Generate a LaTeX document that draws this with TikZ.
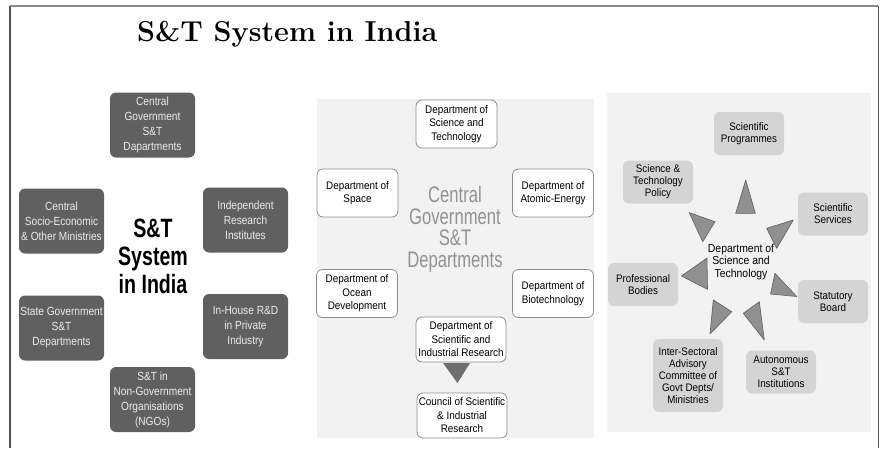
\documentclass[tikz,border=0pt]{standalone}
\usepackage{fontspec}
\newfontfamily\boxsans[FakeStretch=0.86]{Liberation Sans}
\newfontfamily\panelsans[FakeStretch=0.9]{Liberation Sans}
\newfontfamily\widesans[FakeStretch=0.74]{Liberation Sans}

\definecolor{darkfill}{HTML}{606060}
\definecolor{darktext}{HTML}{ECECEC}
\definecolor{panelbg}{HTML}{F2F2F2}
\definecolor{edgegray}{HTML}{8C8C8C}
\definecolor{lightfill}{HTML}{D4D4D4}
\definecolor{trifill}{HTML}{909090}
\definecolor{triedge}{HTML}{5E5E5E}
\definecolor{downfill}{HTML}{6E6E6E}
\definecolor{bigtext}{HTML}{929292}
\definecolor{framegray}{HTML}{8A8A8A}
\definecolor{frameside}{HTML}{555555}

\tikzset{
  darkbox/.style={rectangle, rounded corners=6pt, fill=darkfill, text=darktext,
    minimum width=85pt, minimum height=65pt, inner sep=0pt, align=center,
    font=\boxsans\fontsize{11.8}{15}\selectfont},
  whitebox/.style={rectangle, rounded corners=6pt, fill=white, draw=edgegray, line width=0.8pt,
    minimum width=81pt, minimum height=48pt, inner sep=0pt, align=center,
    font=\panelsans\fontsize{11}{13.5}\selectfont},
  widebox/.style={whitebox, minimum width=90pt, minimum height=45pt},
  greybox/.style={rectangle, rounded corners=6pt, fill=lightfill,
    minimum width=70pt, minimum height=43pt, inner sep=0pt, align=center,
    font=\panelsans\fontsize{10.9}{12}\selectfont},
  pointer/.style={fill=trifill, draw=triedge, line width=0.6pt, line join=round},
}

\begin{document}
\begin{tikzpicture}[x=1pt, y=-1pt]
\useasboundingbox (0,0) rectangle (885,448);

% outer frame
\draw[framegray, line width=2pt] (10,6) -- (878,6);
\draw[frameside, line width=1.1pt] (10,6) -- (10,448);
\draw[frameside, line width=1.1pt] (878.5,6) -- (878.5,448);

% heading
\node[anchor=base west, inner sep=0pt, font=\bfseries\fontsize{28.8}{31}\selectfont]
  (title) at (137,41.5) {S\&T System in India};

% ---------- left panel: the overall system ----------
\node[darkbox] (cgov)  at (152.5,125)   {Central\\Government\\S\&T\\Dapartments};
\node[darkbox] (csoc)  at (61.5,221)    {Central\\Socio-Economic\\\& Other Ministries};
\node[darkbox] (indep) at (245.5,220)   {Independent\\Research\\Institutes};
\node[darkbox] (state) at (61.5,328)    {State Government\\S\&T\\Departments};
\node[darkbox] (inhouse) at (245.5,326.5) {In-House R\&D\\in Private\\Industry};
\node[darkbox] (ngo)   at (152.5,399.5) {S\&T in\\Non-Government\\Organisations\\(NGOs)};
\node[align=center, inner sep=0pt, font=\widesans\bfseries\fontsize{26.5}{28.3}\selectfont]
  (system) at (153,256.5) {S\&T\\System\\in India};

% ---------- middle panel: central government departments ----------
\fill[panelbg] (317,99) rectangle (594,438);
\node[align=center, inner sep=0pt, text=bigtext, font=\widesans\fontsize{22.5}{21.5}\selectfont]
  (central) at (455,229) {Central\\Government\\S\&T\\Departments};
\node[whitebox] (dst)   at (456.5,124)  {Department of\\Science and\\Technology};
\node[whitebox] (space) at (357.5,193)  {Department of\\Space};
\node[whitebox] (atom)  at (553,193)    {Department of\\Atomic-Energy};
\node[whitebox] (ocean) at (357,293.5)  {Department of\\Ocean\\Development};
\node[whitebox] (biot)  at (553,293.5)  {Department of\\Biotechnology};
\node[widebox]  (dsir)  at (461,339.5)  {Department of\\Scientific and\\Industrial Research};
\node[widebox]  (csir)  at (462,415.5)  {Council of Scientific\\\& Industrial\\Research};
\fill[downfill] (443,363) -- (470,363) -- (457.5,383) -- cycle;

% ---------- right panel: the Department of Science and Technology ----------
\fill[panelbg] (607,93) rectangle (871,432);
\node[align=center, inner sep=0pt, font=\panelsans\fontsize{11.6}{12.5}\selectfont]
  (dstc) at (741,261.5) {Department of\\Science and\\Technology};
\node[greybox] (prog)  at (749,133.5) {Scientific\\Programmes};
\node[greybox] (policy) at (658,182)  {Science \&\\Technology\\Policy};
\node[greybox] (serv)  at (833,214)   {Scientific\\Services};
\node[greybox] (prof)  at (643,284.5) {Professional\\Bodies};
\node[greybox] (stat)  at (833,301.5) {Statutory\\Board};
\node[greybox, minimum height=73pt] (inter) at (688,375.5)
  {Inter-Sectoral\\Advisory\\Committee of\\Govt Depts/\\Ministries};
\node[greybox] (auton) at (781,372)   {Autonomous\\S\&T\\Institutions};

% pointers radiating from the centre
\draw[pointer] (745.7,180) -- (735.7,213.3) -- (755.3,213.3) -- cycle;
\draw[pointer] (689.3,212.7) -- (715,221.7) -- (702.7,241.7) -- cycle;
\draw[pointer] (793.3,220) -- (766.7,228.3) -- (776.7,248.3) -- cycle;
\draw[pointer] (681.5,276) -- (707,258) -- (707.5,289.3) -- cycle;
\draw[pointer] (796.7,296.5) -- (775,273.3) -- (770.5,294) -- cycle;
\draw[pointer] (710,334) -- (713.3,300) -- (731.7,311.7) -- cycle;
\draw[pointer] (764.3,340) -- (743.3,313.3) -- (759.3,301.7) -- cycle;
\end{tikzpicture}
\end{document}
